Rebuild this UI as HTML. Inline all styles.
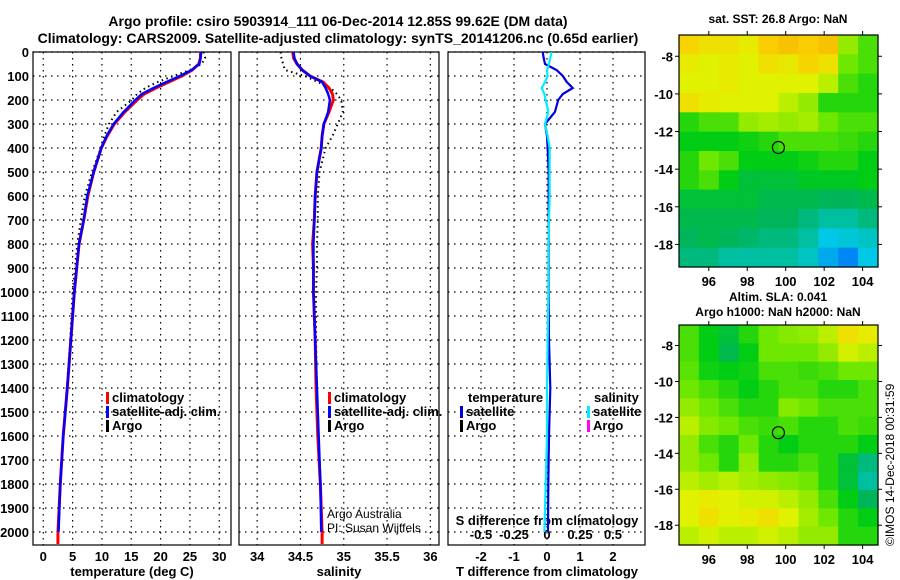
<!DOCTYPE html>
<html><head><meta charset="utf-8"><style>
html,body{margin:0;padding:0;background:#fff;width:900px;height:580px;overflow:hidden}
svg{display:block;font-family:"Liberation Sans",sans-serif}
.b{font-weight:bold;font-size:13px}
</style></head><body>
<svg id="chart" width="900" height="580" viewBox="0 0 900 580">
<text x="338" y="26" text-anchor="middle" class="b" style="font-size:14px">Argo profile: csiro 5903914_111 06-Dec-2014 12.85S 99.62E (DM data)</text>
<text x="338" y="43" text-anchor="middle" class="b" style="font-size:14px">Climatology: CARS2009. Satellite-adjusted climatology: synTS_20141206.nc (0.65d earlier)</text>
<text x="132" y="576" text-anchor="middle" class="b">temperature (deg C)</text>
<text x="339" y="576" text-anchor="middle" class="b">salinity</text>
<text x="547" y="576" text-anchor="middle" class="b">T difference from climatology</text>
<text x="547" y="525" text-anchor="middle" class="b">S difference from climatology</text>
<text x="778" y="23" text-anchor="middle" class="b" style="font-size:12px">sat. SST: 26.8 Argo: NaN</text>
<text x="778" y="301" text-anchor="middle" class="b" style="font-size:12px">Altim. SLA: 0.041</text>
<text x="778" y="316" text-anchor="middle" class="b" style="font-size:12px">Argo h1000: NaN h2000: NaN</text>
<text transform="translate(894,546) rotate(-90)" style="font-size:12px">©IMOS 14-Dec-2018 00:31:59</text>
<text x="327" y="518" style="font-size:12px">Argo Australia</text>
<text x="327" y="532" style="font-size:12px">PI: Susan Wijffels</text>
<g id="g"></g>
</svg>
<script>
// ---- profile data ----
const depths = [0,25,50,75,100,125,150,175,200,250,300,350,400,500,600,700,800,900,1000,1200,1400,1600,1800,2000];
const tempClim = [26.8,26.8,26.5,25.4,23.6,21.4,19.2,17.2,16.0,13.9,12.1,10.9,9.9,8.6,7.6,6.9,6.1,5.7,5.3,4.7,4.1,3.4,2.9,2.5];
const tempSat  = [26.9,26.8,26.6,25.3,23.3,21.0,18.8,16.8,15.7,13.7,12.0,10.8,9.9,8.6,7.5,6.9,6.1,5.7,5.3,4.7,4.1,3.4,2.9,2.6];
const tempArgo = [27.3,27.6,27.0,25.0,22.2,19.5,17.4,16.0,15.1,12.5,11.2,10.4,9.8,8.3,7.1,6.4,5.8,5.4,5.0,4.6,4.0,3.4,2.9,2.6];
const salClim = [34.41,34.42,34.46,34.52,34.61,34.76,34.83,34.87,34.88,34.83,34.77,34.75,34.74,34.69,34.67,34.66,34.64,34.65,34.65,34.67,34.68,34.70,34.73,34.75];
const salSat  = [34.42,34.43,34.46,34.52,34.61,34.75,34.79,34.82,34.84,34.82,34.77,34.75,34.74,34.69,34.67,34.66,34.65,34.65,34.65,34.67,34.69,34.71,34.73,34.74];
const salArgo = [34.27,34.28,34.30,34.32,34.55,34.70,34.85,34.92,34.97,34.99,34.93,34.87,34.79,34.72,34.70,34.70,34.69,34.69,34.68,34.68,34.69,34.71,34.73,34.74];
const tDiffSat = [-0.13,-0.1,-0.06,0.29,0.48,0.6,0.78,0.48,0.34,0.24,-0.06,0,0.02,0.05,0.05,0.05,0.05,0.05,0.05,0.06,0.1,0.06,0.04,0.03];
const sDiffSat = [0.035,0.025,0.015,0,0.005,-0.015,-0.04,-0.02,-0.01,0.01,-0.015,0.005,0.02,0.02,0.02,0.015,0.01,0.01,0.01,0.005,0.0,0.0,-0.01,-0.02];
const depthTicks = [0,100,200,300,400,500,600,700,800,900,1000,1100,1200,1300,1400,1500,1600,1700,1800,1900,2000];
const tempTicks = [0,5,10,15,20,25,30];
const salTicks = [34,34.5,35,35.5,36];
const salTickLabels = ["34","34.5","35","35.5","36"];
const tdTicks = [-2,-1,0,1,2];
const sdTicks = [-0.5,-0.25,0,0.25,0.5];
const sdTickLabels = ["-0.5","-0.25","0","0.25","0.5"];
// ---- map data (colour index 0=blue .. 1=orange), rows north->south ----
const sstRows = [
[0.88,0.85,0.85,0.82,0.9,0.92,0.9,0.92,0.7,0.6],
[0.82,0.8,0.82,0.8,0.85,0.83,0.88,0.85,0.65,0.6],
[0.8,0.8,0.82,0.8,0.8,0.8,0.8,0.75,0.6,0.55],
[0.85,0.82,0.8,0.8,0.8,0.75,0.7,0.55,0.55,0.55],
[0.55,0.6,0.6,0.7,0.72,0.7,0.72,0.65,0.6,0.6],
[0.5,0.5,0.5,0.52,0.55,0.6,0.6,0.6,0.58,0.55],
[0.55,0.65,0.6,0.5,0.5,0.5,0.52,0.55,0.55,0.5],
[0.55,0.6,0.5,0.45,0.45,0.45,0.48,0.48,0.48,0.5],
[0.45,0.45,0.45,0.45,0.42,0.42,0.42,0.4,0.4,0.42],
[0.42,0.42,0.42,0.42,0.4,0.4,0.35,0.3,0.3,0.35],
[0.4,0.42,0.4,0.38,0.35,0.35,0.3,0.2,0.22,0.25],
[0.35,0.35,0.3,0.3,0.3,0.3,0.25,0.15,0.1,0.2]];
const slaRows = [
[0.6,0.5,0.45,0.55,0.65,0.68,0.7,0.75,0.85,0.82],
[0.6,0.5,0.42,0.5,0.65,0.65,0.65,0.7,0.78,0.75],
[0.62,0.52,0.5,0.52,0.6,0.6,0.58,0.6,0.65,0.65],
[0.65,0.6,0.55,0.5,0.55,0.6,0.6,0.55,0.55,0.6],
[0.7,0.65,0.6,0.55,0.55,0.68,0.65,0.6,0.6,0.6],
[0.75,0.68,0.65,0.6,0.58,0.6,0.55,0.55,0.6,0.58],
[0.7,0.6,0.55,0.65,0.55,0.5,0.55,0.55,0.55,0.5],
[0.7,0.65,0.55,0.7,0.55,0.55,0.6,0.55,0.45,0.35],
[0.75,0.72,0.75,0.72,0.7,0.68,0.65,0.55,0.45,0.3],
[0.8,0.82,0.8,0.78,0.78,0.75,0.7,0.6,0.5,0.4],
[0.8,0.85,0.8,0.82,0.85,0.8,0.72,0.65,0.55,0.5],
[0.75,0.78,0.75,0.75,0.78,0.75,0.7,0.7,0.55,0.55]];
const lonTicks = [96,98,100,102,104];
const latTicks = [-8,-10,-12,-14,-16,-18];
const argoPos = [99.62,-12.85];

const NS="http://www.w3.org/2000/svg", G=document.getElementById('g');
function mk(t,a,p){const e=document.createElementNS(NS,t);for(const k in a)e.setAttribute(k,a[k]);(p||G).appendChild(e);return e;}
const yD = d => 52 + d*0.24;
const P = [
 {x0:33,x1:231,lo:-1.75,hi:32},
 {x0:239,x1:439,lo:33.79,hi:36.1},
 {x0:448,x1:645,lo:-3.0,hi:2.97}];
const sx = (p,v)=>p.x0+(v-p.lo)/(p.hi-p.lo)*(p.x1-p.x0);
const sdx = v => sx(P[2], v*4);

// grids & frames
P.forEach((p,i)=>{
  depthTicks.forEach(d=>{
    const y=yD(d);
    const l=mk('line',{x1:p.x0,x2:p.x1,y1:y,y2:y,stroke:'#000','stroke-dasharray':'1.5 4.5','stroke-width':1.2});
    
    
  });
  const xt = i==0?tempTicks:i==1?salTicks:tdTicks;
  xt.forEach((v,j)=>{
    const x=sx(p,v);
    const l=mk('line',{x1:x,x2:x,y1:52,y2:545,stroke:'#000','stroke-dasharray':'1.5 4.5','stroke-width':1.2});
    
    
    const t=mk('text',{x:x,y:561,'text-anchor':'middle',class:'b'});
    t.textContent = i==1?salTickLabels[j]:String(v);
    
    
  });
  const r=mk('rect',{x:p.x0,y:52,width:p.x1-p.x0,height:493,fill:'none',stroke:'#000','stroke-width':1.2});
  
  
});
depthTicks.forEach(d=>{
  const t=mk('text',{x:29,y:yD(d)+5,'text-anchor':'end',class:'b'});
  t.textContent=d;
  
  
});
sdTicks.forEach((v,j)=>{
  const t=mk('text',{x:sdx(v),y:539,'text-anchor':'middle',class:'b'});
  t.textContent=sdTickLabels[j];
  
  
});

function line(p,vals,col,w,dash,name,last,scale){
  let pts=[];
  vals.forEach((v,i)=>{const x=scale?scale(v):sx(p,v);pts.push(x+','+yD(depths[i]));});
  if(last!==undefined && last!==null){pts.push((scale?scale(vals[vals.length-1]):sx(p,vals[vals.length-1]))+','+yD(last));}
  const e=mk('polyline',{points:pts.join(' '),fill:'none',stroke:col,'stroke-width':w,'stroke-dasharray':dash||'none'});
  
  
}
line(P[0],tempArgo,'#000',2,'1.5 3.5','temp-argo-line');
line(P[0],tempClim,'#f00',3,null,'temp-climatology-line',2050);
line(P[0],tempSat,'#00f',2.5,null,'temp-satellite-line');
line(P[1],salArgo,'#000',2,'1.5 3.5','sal-argo-line');
line(P[1],salClim,'#f00',3,null,'sal-climatology-line',2050);
line(P[1],salSat,'#00f',2.5,null,'sal-satellite-line');
line(P[2],tDiffSat,'#0000dd',2.2,null,'t-diff-satellite-line');
line(P[2],sDiffSat,'#00eeff',2.2,null,'s-diff-satellite-line',null,sdx);

// legends
function leg(x,y,col,txt,name){
  if(col){const r=mk('rect',{x:x,y:y-10,width:3,height:12,fill:col});
  
  }
  const t=mk('text',{x:x+6,y:y,class:'b'});t.textContent=txt;
  
  
}
leg(106,402,'#f00','climatology','legend-climatology');
leg(106,416,'#00f','satellite-adj. clim.','legend-satellite');
leg(106,430,'#000','Argo','legend-argo');
leg(328,402,'#f00','climatology','legend-sal-climatology');
leg(328,416,'#00f','satellite-adj. clim.','legend-sal-satellite');
leg(328,430,'#000','Argo','legend-sal-argo');
leg(462,402,null,'temperature','legend-temperature-header');
leg(460,416,'#0000dd','satellite','legend-t-satellite');
leg(460,430,'#000','Argo','legend-t-argo');
leg(588,402,null,'salinity','legend-salinity-header');
leg(587,416,'#00eeff','satellite','legend-s-satellite');
leg(587,430,'#ff00ff','Argo','legend-s-argo');

// maps
const stops=[[0,[0,70,255]],[0.2,[0,200,230]],[0.4,[0,180,90]],[0.5,[0,205,20]],[0.65,[110,232,0]],[0.8,[225,242,0]],[0.9,[250,205,0]],[1,[240,150,0]]];
function cmap(v){for(let i=1;i<stops.length;i++){if(v<=stops[i][0]){const a=stops[i-1],b=stops[i],f=(v-a[0])/(b[0]-a[0]);return 'rgb('+a[1].map((c,k)=>Math.round(c+(b[1][k]-c)*f)).join(',')+')';}}return 'rgb(240,150,0)';}
function map(rows,x0,x1,y0,y1,latTop,latBot,name){
  const lonL=94.45, lonR=104.8;
  const mxf=v=>x0+(v-lonL)/(lonR-lonL)*(x1-x0);
  const myf=v=>y0+(latTop-v)/(latTop-latBot)*(y1-y0);
  const nr=rows.length,nc=rows[0].length,cw=(x1-x0)/nc,ch=(y1-y0)/nr;
  rows.forEach((row,r)=>row.forEach((v,c)=>{
    const e=mk('rect',{x:x0+c*cw,y:y0+r*ch,width:cw+0.6,height:ch+0.6,fill:cmap(v)});
    
    
  }));
  const f=mk('rect',{x:x0,y:y0,width:x1-x0,height:y1-y0,fill:'none',stroke:'#000','stroke-width':1.2});
  
  
  lonTicks.forEach(v=>{const x=mxf(v);
    mk('line',{x1:x,x2:x,y1:y1,y2:y1+4,stroke:'#000'});mk('line',{x1:x,x2:x,y1:y0,y2:y0-4,stroke:'#000'});
    const t=mk('text',{x:x,y:y1+19,'text-anchor':'middle',class:'b'});t.textContent=v;
    
    });
  latTicks.forEach(v=>{const y=myf(v);
    mk('line',{x1:x0-4,x2:x0,y1:y,y2:y,stroke:'#000'});mk('line',{x1:x1,x2:x1+4,y1:y,y2:y,stroke:'#000'});
    const t=mk('text',{x:x0-6,y:y+5,'text-anchor':'end',class:'b'});t.textContent=v;
    
    });
  const c=mk('circle',{cx:mxf(argoPos[0]),cy:myf(argoPos[1]),r:6,fill:'none',stroke:'#000','stroke-width':1.2});
  
  
}
map(sstRows,679,878,35,267,-6.87,-19.2,'sst-map');
map(slaRows,679,878,325,545,-6.86,-19.1,'sla-map');
</script>
</body></html>
